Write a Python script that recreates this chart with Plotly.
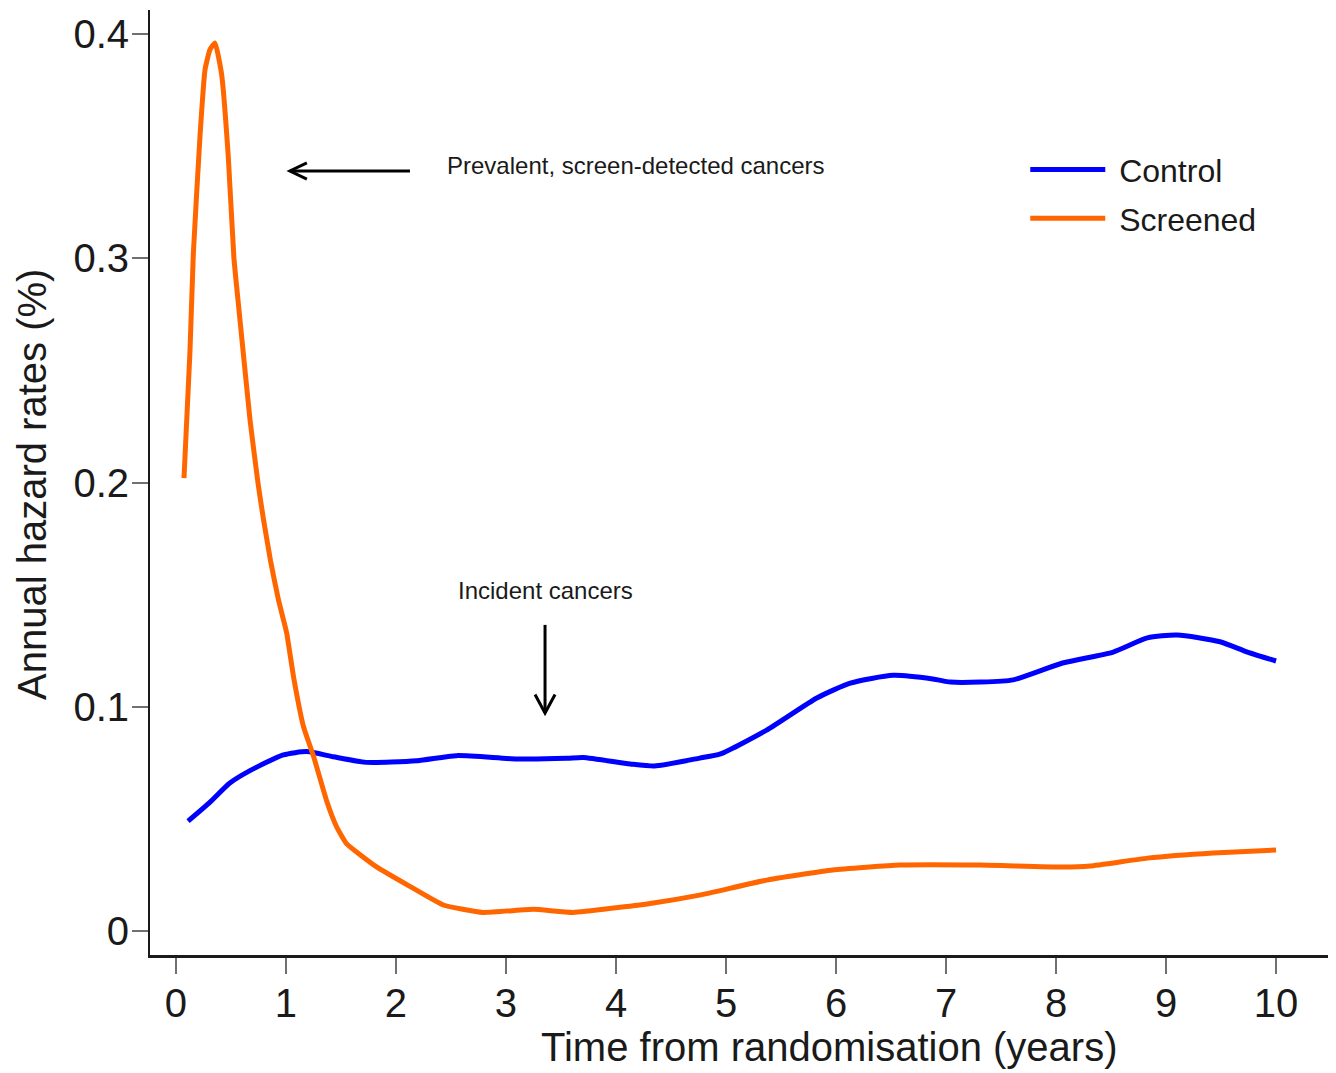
import plotly.graph_objects as go

# ---- data ----
screened_t = [0.073, 0.127, 0.158, 0.218, 0.264, 0.309, 0.355, 0.415, 0.476, 0.527,
              0.582, 0.673, 0.745, 0.794, 0.86, 0.93, 1.006, 1.07, 1.16, 1.25,
              1.37, 1.46, 1.55, 1.82, 2.13, 2.43, 2.79, 3.25, 3.61, 4.31,
              4.76, 5.37, 5.97, 6.58, 7.31, 8.06, 8.31, 8.83, 9.43, 10.0]
screened_h = [0.202, 0.258, 0.302, 0.354, 0.384, 0.393, 0.396, 0.382, 0.345, 0.300,
              0.2725, 0.228, 0.200, 0.184, 0.165, 0.148, 0.133, 0.113, 0.091, 0.078,
              0.058, 0.0465, 0.039, 0.0287, 0.0198, 0.0116, 0.0083, 0.0097, 0.0083, 0.0123,
              0.016, 0.0227, 0.0272, 0.0294, 0.0294, 0.0285, 0.029, 0.0325, 0.0348, 0.0361]

control_t = [0.11, 0.30, 0.49, 0.673, 0.976, 1.19, 1.43, 1.73, 2.19, 2.55,
             3.1, 3.55, 3.7, 4.13, 4.35, 4.76, 4.95, 5.37, 5.83, 6.13,
             6.52, 6.88, 7.04, 7.31, 7.61, 8.06, 8.52, 8.83, 9.1, 9.49,
             9.74, 10.0]
control_h = [0.049, 0.057, 0.066, 0.0715, 0.0785, 0.080, 0.0777, 0.0752, 0.0759, 0.0782,
             0.0767, 0.077, 0.0774, 0.0745, 0.0736, 0.0771, 0.079, 0.0896, 0.104, 0.1105,
             0.114, 0.1124, 0.111, 0.111, 0.112, 0.1195, 0.1244, 0.1307, 0.132, 0.129,
             0.1244, 0.1204]

x_ticks = [0, 1, 2, 3, 4, 5, 6, 7, 8, 9, 10]
y_ticks = [0, 0.1, 0.2, 0.3, 0.4]
y_tick_labels = ["0", "0.1", "0.2", "0.3", "0.4"]

BLUE = "#0000FF"
ORANGE = "#FF6600"
FONT = "Liberation Sans, Arial, sans-serif"
TXT = "#1a1a1a"

fig = go.Figure()
fig.add_trace(go.Scatter(x=control_t, y=control_h, mode="lines",
                         name="\u00a0Control", legendgroup="c",
                         line=dict(color=BLUE, width=5, shape="spline", smoothing=0.6)))
fig.add_trace(go.Scatter(x=screened_t, y=screened_h, mode="lines",
                         name="\u00a0Screened", legendgroup="s",
                         line=dict(color=ORANGE, width=5, shape="spline", smoothing=0.4)))

# arrows (R-style open heads), in data coordinates
arrow = dict(color="black", width=3)
fig.add_shape(type="line", x0=2.127, y0=0.3389, x1=1.036, y1=0.3389, line=arrow)
fig.add_shape(type="path", path="M 1.19,0.3425 L 1.036,0.3389 L 1.19,0.3353", line=arrow)
fig.add_shape(type="line", x0=3.355, y0=0.1365, x1=3.355, y1=0.0972, line=arrow)
fig.add_shape(type="path", path="M 3.264,0.1055 L 3.355,0.0972 L 3.446,0.1055", line=arrow)

fig.add_annotation(x=2.445, y=0.3412, xref="x", yref="y", xanchor="left", yanchor="middle",
                   text="Prevalent, screen-detected cancers", showarrow=False,
                   font=dict(family=FONT, size=24, color=TXT))
fig.add_annotation(x=3.355, y=0.1517, xref="x", yref="y", xanchor="center", yanchor="middle",
                   text="Incident cancers", showarrow=False,
                   font=dict(family=FONT, size=24, color=TXT))

# axis titles
fig.add_annotation(x=0.5725, y=-0.097, xref="paper", yref="paper", xanchor="center",
                   yanchor="middle", text="Time from randomisation (years)", showarrow=False,
                   font=dict(family=FONT, size=40, color=TXT))
fig.add_annotation(x=-0.099, y=0.498, xref="paper", yref="paper", xanchor="center",
                   yanchor="middle", text="Annual hazard rates (%)", showarrow=False,
                   textangle=-90, font=dict(family=FONT, size=40, color=TXT))

fig.update_xaxes(range=[-0.236, 10.545], tickvals=x_ticks, ticks="outside", ticklen=16,
                 tickwidth=2, tickcolor="#707070", showline=True, linewidth=3,
                 linecolor="#1a1a1a", showgrid=False, zeroline=False,
                 ticklabelstandoff=-5,
                 tickfont=dict(family=FONT, size=40, color=TXT))
fig.update_yaxes(range=[-0.0107, 0.4107], tickvals=y_ticks, ticktext=y_tick_labels,
                 ticks="outside", ticklen=16, tickwidth=2, tickcolor="#707070",
                 showline=True, linewidth=2, linecolor="#1a1a1a", showgrid=False,
                 zeroline=False, ticklabelstandoff=-5,
                 tickfont=dict(family=FONT, size=40, color=TXT))

fig.update_layout(
    width=1328, height=1065,
    margin=dict(l=142, r=0, t=2, b=118),
    plot_bgcolor="white", paper_bgcolor="white",
    showlegend=True,
    legend=dict(x=0.738, y=0.86, xanchor="left", yanchor="top", bgcolor="rgba(0,0,0,0)",
                font=dict(family=FONT, size=32, color=TXT), itemwidth=75,
                traceorder="grouped", tracegroupgap=4),
)

fig.write_html("out.html")
